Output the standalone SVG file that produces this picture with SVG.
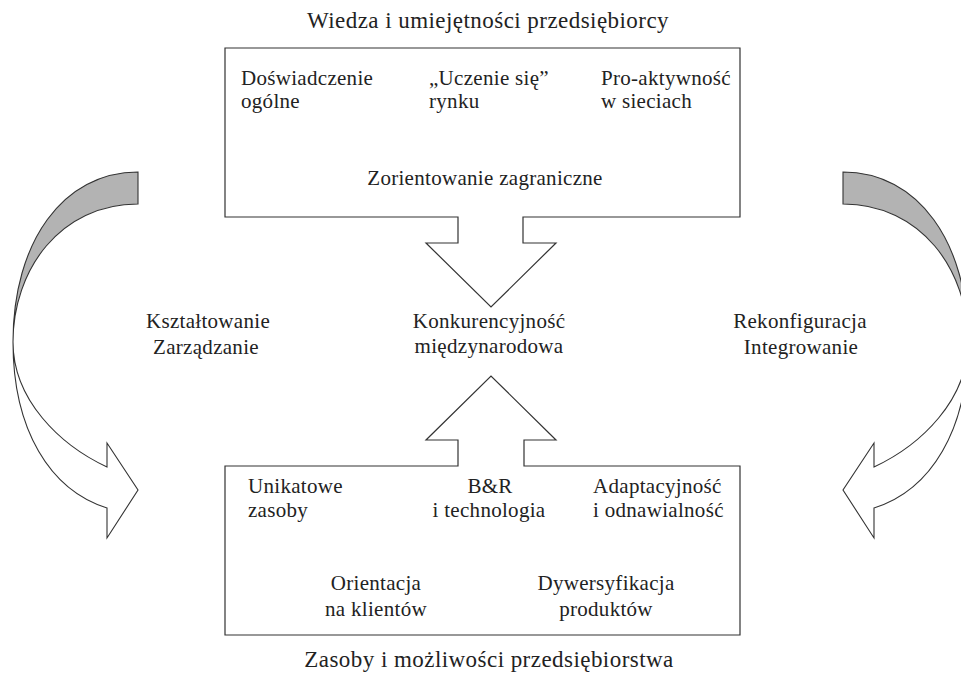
<svg xmlns="http://www.w3.org/2000/svg" width="961" height="675" viewBox="0 0 961 675">
<style>
  text { font-family: "Liberation Serif", "DejaVu Serif", serif; fill: #222; font-size: 21px; letter-spacing: 0.3px; }
  .title { font-size: 23px; letter-spacing: 0.45px; }
  .c { text-anchor: middle; }
  .shape { fill: #fff; stroke: #333; stroke-width: 1.2; stroke-linejoin: miter; }
  .gray { fill: #b3b3b3; stroke: #333; stroke-width: 1.1; }
  .white { fill: #fff; stroke: #333; stroke-width: 1.1; }
</style>
<rect width="961" height="675" fill="#fff"/>

<defs>
  <g id="cycle-arrow">
    <path class="gray" d="M138,172 C63,172 13,242 13,342 C13,270 60,204 138,204 Z"/>
    <path class="white" d="M13,342 C13,430 50,490 107,508 L107,538 L138,490 L107,443 L107,467 C60,445 13,400 13,342 Z"/>
  </g>
</defs>

<g id="connectors">
  <use id="left-cycle-arrow" href="#cycle-arrow"/>
  <use id="right-cycle-arrow" href="#cycle-arrow" transform="translate(981,0) scale(-1,1)"/>
</g>

<g id="node-top">
  <text class="title c" x="488" y="28">Wiedza i umiejętności przedsiębiorcy</text>
  <path class="shape" d="M225,48 H740 V217 H523 V243 H556 L491,307 L426,243 H458 V217 H225 Z"/>
  <text x="241" y="85">Doświadczenie</text>
  <text x="241" y="108">ogólne</text>
  <text x="429" y="85">„Uczenie się”</text>
  <text x="429" y="108">rynku</text>
  <text x="601" y="85">Pro-aktywność</text>
  <text x="601" y="108">w sieciach</text>
  <text class="c" x="485" y="185">Zorientowanie zagraniczne</text>
</g>

<g id="node-center">
  <text class="c" x="489" y="328">Konkurencyjność</text>
  <text class="c" x="489" y="353">międzynarodowa</text>
</g>

<g id="node-left-label">
  <text class="c" x="208" y="328">Kształtowanie</text>
  <text class="c" x="206" y="354">Zarządzanie</text>
</g>

<g id="node-right-label">
  <text class="c" x="800" y="328">Rekonfiguracja</text>
  <text class="c" x="801" y="354">Integrowanie</text>
</g>

<g id="node-bottom">
  <path class="shape" d="M225,466 H458 V440 H426 L491,376 L556,440 H524 V466 H740 V635 H225 Z"/>
  <text x="248" y="493">Unikatowe</text>
  <text x="248" y="517">zasoby</text>
  <text class="c" x="490" y="493">B&amp;R</text>
  <text class="c" x="489" y="517">i technologia</text>
  <text x="593" y="493">Adaptacyjność</text>
  <text x="593" y="517">i odnawialność</text>
  <text class="c" x="376" y="590">Orientacja</text>
  <text class="c" x="376" y="616">na klientów</text>
  <text class="c" x="606" y="590">Dywersyfikacja</text>
  <text class="c" x="606" y="616">produktów</text>
  <text class="title c" x="489" y="667">Zasoby i możliwości przedsiębiorstwa</text>
</g>
</svg>
